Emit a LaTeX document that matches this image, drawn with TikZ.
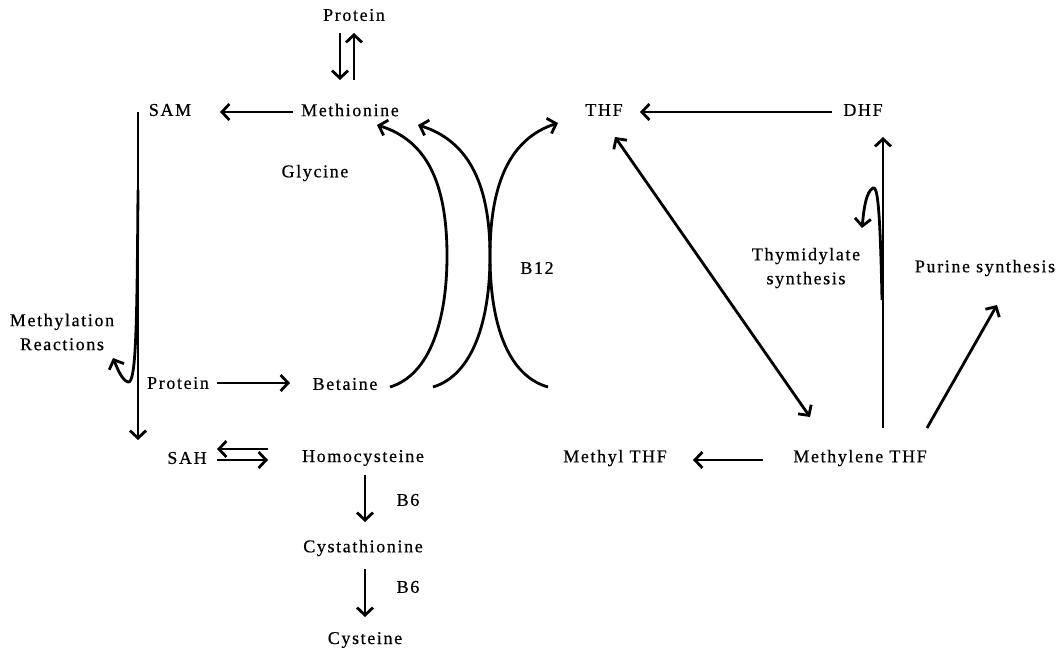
\documentclass[tikz,border=0pt]{standalone}
\usepackage{fontspec}
\setmainfont{Liberation Serif}[LetterSpace=9,FakeBold=0.6]
\usetikzlibrary{arrows.meta}
\begin{document}
\begin{tikzpicture}[x=1pt,y=-1pt,
  lbl/.style={inner sep=0pt,font=\fontsize{18}{24}\selectfont,align=center},
  arr/.style={line width=2.8pt,-{Straight Barb[length=7.5pt,width=16pt,line width=2.8pt]}},
  darr/.style={line width=2.8pt,{Straight Barb[length=7.5pt,width=16pt,line width=2.8pt]}-{Straight Barb[length=7.5pt,width=16pt,line width=2.8pt]}}]
\useasboundingbox (0,0) rectangle (1058,653);
% nodes
\node[lbl] (proteinTop) at (354,15) {Protein};
\node[lbl] (met) at (350,110) {Methionine};
\node[lbl] (sam) at (170,110) {SAM};
\node[lbl] (gly) at (315,173) {Glycine};
\node[lbl] (methyl) at (62,332) {Methylation\\Reactions};
\node[lbl] (proteinMid) at (178,383) {Protein};
\node[lbl] (bet) at (345,384) {Betaine};
\node[lbl] (b12) at (537,268) {B12};
\node[lbl] (thf) at (604,110) {THF};
\node[lbl] (dhf) at (863,110) {DHF};
\node[lbl] (thy) at (806,268) {Thymidylate\\synthesis};
\node[lbl] (pur) at (985,268) {Purine synthesis};
\node[lbl] (mthf) at (615,458) {Methyl THF};
\node[lbl] (mlthf) at (860,458) {Methylene THF};
\node[lbl] (sah) at (187,458) {SAH};
\node[lbl] (hcy) at (363,458) {Homocysteine};
\node[lbl] (b6a) at (408,500) {B6};
\node[lbl] (cys) at (363,548) {Cystathionine};
\node[lbl] (b6b) at (408,587) {B6};
\node[lbl] (cyst) at (365,640) {Cysteine};
% coordinates for connector ends
\coordinate (pd1) at (340,33); \coordinate (pd2) at (340,80);
\coordinate (pu1) at (354,80); \coordinate (pu2) at (354,33);
\coordinate (mS) at (293,112); \coordinate (mE) at (220,112);
\coordinate (sT) at (138,112); \coordinate (sB) at (138,440);
\coordinate (pS) at (217,383); \coordinate (pE) at (290,383);
\coordinate (dS) at (832,112); \coordinate (dE) at (640,112);
\coordinate (tA) at (615,137); \coordinate (tB) at (810,417);
\coordinate (vS) at (883,428); \coordinate (vE) at (883,137);
\coordinate (puS) at (927,428); \coordinate (puE) at (997,305);
\coordinate (mlS) at (763,460); \coordinate (mlE) at (693,460);
\coordinate (h1S) at (268,449); \coordinate (h1E) at (217,449);
\coordinate (h2S) at (217,460); \coordinate (h2E) at (268,460);
\coordinate (c1S) at (365,475); \coordinate (c1E) at (365,522);
\coordinate (c2S) at (365,569); \coordinate (c2E) at (365,617);
% connectors
\draw[arr] (pd1) -- (pd2);
\draw[arr] (pu1) -- (pu2);
\draw[arr] (mS) -- (mE);
\draw[arr] (sT) -- (sB);
\draw[arr] (138,190) .. controls (137,330) and (136,384) .. (128,382) .. controls (122,380) and (118,370) .. (113,358);
\draw[arr] (pS) -- (pE);
\draw[arr] (390,387) .. controls (430,375) and (447,320) .. (447,256) .. controls (447,180) and (425,140) .. (377,125);
\draw[arr] (433,387) .. controls (473,375) and (490,320) .. (490,256) .. controls (490,180) and (466,140) .. (418,125);
\draw[arr] (548,387) .. controls (506,375) and (490,320) .. (490,256) .. controls (490,180) and (512,138) .. (558,123);
\draw[arr] (dS) -- (dE);
\draw[darr] (tA) -- (tB);
\draw[arr] (vS) -- (vE);
\draw[arr] (882,300) .. controls (880,200) and (877,186) .. (873,188) .. controls (866,192) and (864,208) .. (862,228);
\draw[arr] (puS) -- (puE);
\draw[arr] (mlS) -- (mlE);
\draw[arr] (h1S) -- (h1E);
\draw[arr] (h2S) -- (h2E);
\draw[arr] (c1S) -- (c1E);
\draw[arr] (c2S) -- (c2E);
\end{tikzpicture}
\end{document}
